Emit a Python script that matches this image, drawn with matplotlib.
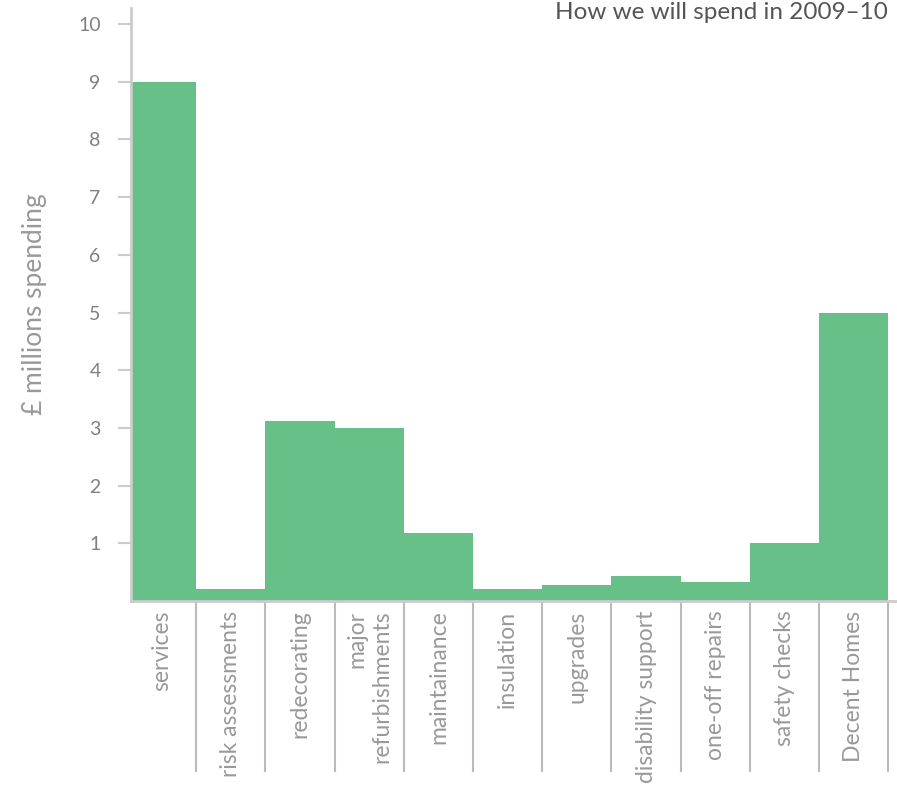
import numpy as np
import matplotlib.pyplot as plt

plt.rcParams['font.family'] = ['Lato', 'DejaVu Sans']

# kategoriler ve harcamalar (milyon £)
kategoriler = ['services', 'risk assessments', 'redecorating', 'major\nrefurbishments',
               'maintainance', 'insulation', 'upgrades', 'disability support',
               'one-off repairs', 'safety checks', 'Decent Homes']
harcama = [9.0, 0.21, 3.12, 3.0, 1.18, 0.21, 0.28, 0.44, 0.33, 1.0, 5.0]
y_ticks = [1, 2, 3, 4, 5, 6, 7, 8, 9, 10]
y_tick_labels = ['1', '2', '3', '4', '5', '6', '7', '8', '9', '10']

W, H = 897, 791
fig = plt.figure(figsize=(W / 100, H / 100), dpi=100)
ax = fig.add_axes([130.5 / W, (H - 601) / H, (W - 130.5) / W, (601 - 8) / H])

x = np.arange(len(harcama))
ax.bar(x, harcama, width=1.0, align='edge', color='#66c087', linewidth=0, zorder=2)

# ilk çubuk eksenin biraz arkasından başlıyor
ax.set_xlim(0.05, 0.05 + (W - 130.5) / 69.2)
ax.set_ylim(0, 10 * (601 - 8) / (601 - 24))

for s in ['top', 'right']:
    ax.spines[s].set_visible(False)
for s in ['left', 'bottom']:
    ax.spines[s].set_color('#cccccc')
    ax.spines[s].set_linewidth(2)
    ax.spines[s].set_zorder(3)

ax.set_yticks(y_ticks)
ax.set_yticklabels(y_tick_labels)
ax.tick_params(axis='y', length=9.5, width=1.5, color='#cccccc', pad=12,
               labelsize=14, labelcolor='#808080')

# kategori ayırıcı çizgiler (major) ve etiketler (minor)
ax.set_xticks(np.arange(1, len(harcama) + 1))
ax.set_xticklabels([])
ax.tick_params(axis='x', which='major', length=123, width=1.5, color='#bbbbbb')
ax.set_xticks(x + 0.5, minor=True)
ax.set_xticklabels(kategoriler, minor=True, rotation=90, multialignment='right')
ax.tick_params(axis='x', which='minor', length=0, pad=7, labelsize=16.5, labelcolor='#999999')

ax.set_ylabel('£ millions spending', fontsize=19, color='#999999', labelpad=22)

fig.text(888 / W, 1 - 2 / H, 'How we will spend in 2009–10', ha='right', va='top',
         fontsize=17.5, color='#555555')

plt.savefig('out.png', dpi=100)
